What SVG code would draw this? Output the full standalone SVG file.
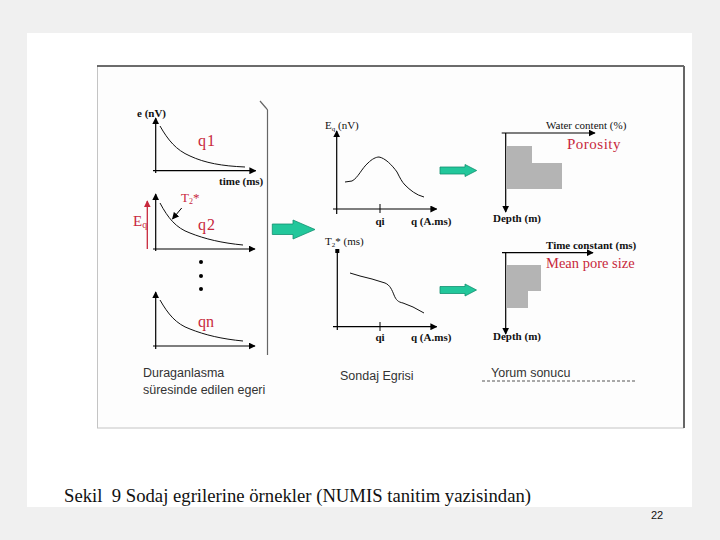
<svg xmlns="http://www.w3.org/2000/svg" width="720" height="540" viewBox="0 0 720 540">
<style>
.ax{stroke:#000;stroke-width:1.2;fill:none}
.cv{stroke:#111;stroke-width:1;fill:none}
.lb{font-family:"Liberation Serif",serif;font-size:11px;fill:#111}
.lbb{font-family:"Liberation Serif",serif;font-size:11px;font-weight:bold;fill:#111}
.red{font-family:"Liberation Serif",serif;fill:#c8283c}
.cap{font-family:"Liberation Sans",sans-serif;font-size:12.5px;fill:#333}
.bar{fill:#b4b4b4}
.garrow{fill:#22c79b;stroke:#129070;stroke-width:0.8}
</style>
<defs>
<marker id="ah" viewBox="0 0 10 10" refX="9" refY="5" markerWidth="7" markerHeight="7" orient="auto-start-reverse" markerUnits="userSpaceOnUse"><path d="M0,0 L10,5 L0,10 z" fill="#000"/></marker>
<marker id="ahr" viewBox="0 0 10 10" refX="9" refY="5" markerWidth="7" markerHeight="7" orient="auto" markerUnits="userSpaceOnUse"><path d="M0,0 L10,5 L0,10 z" fill="#c8283c"/></marker>
</defs>
<rect width="720" height="540" fill="#f0f0f0"/>
<rect x="27" y="33" width="665" height="474" fill="#fff"/>
<g id="frame">
<rect x="97.5" y="66" width="586" height="362" fill="#fdfdfd" stroke="#c4c4c4" stroke-width="1"/>
<line x1="97" y1="66" x2="684" y2="66" stroke="#444" stroke-width="1.5"/>
<line x1="684" y1="66" x2="684" y2="428" stroke="#666" stroke-width="2"/>
</g>
<g id="left-panel">
<path d="M260,101 L266,108 L267.5,110 L267.5,355" stroke="#666" stroke-width="1.2" fill="none"/>
<g id="graph-q1">
<line class="ax" x1="155.7" y1="173" x2="155.7" y2="118" marker-end="url(#ah)"/>
<line class="ax" x1="153" y1="170.7" x2="255.7" y2="170.7" marker-end="url(#ah)"/>
<path class="cv" d="M160,126 C168,140 176,150 190,156 C205,163 222,166 245,167"/>
<text class="lbb" x="137" y="117">e (nV)</text>
<text class="lbb" x="219" y="185">time (ms)</text>
<text class="red" x="198" y="146" font-size="16" letter-spacing="1">q1</text>
</g>
<g id="graph-q2">
<line x1="147.3" y1="249" x2="147.3" y2="201" stroke="#c8283c" stroke-width="1.3" marker-end="url(#ahr)"/>
<text class="red" x="133" y="226" font-size="15">E<tspan font-size="10" dy="2">q</tspan></text>
<line class="ax" x1="155.7" y1="251" x2="155.7" y2="194" marker-end="url(#ah)"/>
<line class="ax" x1="153" y1="249" x2="255" y2="249" marker-end="url(#ah)"/>
<path class="cv" d="M160,203 C168,218 176,228 190,233 C205,239 222,243 243,245"/>
<line x1="181.7" y1="208" x2="172.5" y2="219" stroke="#000" stroke-width="1" marker-end="url(#ah)"/>
<text class="red" x="181" y="202" font-size="13">T<tspan font-size="8" dy="2">2</tspan><tspan dy="-2">*</tspan></text>
<text class="red" x="198" y="230" font-size="16" letter-spacing="1">q2</text>
</g>
<g id="dots" fill="#000">
<circle cx="201" cy="262" r="2"/>
<circle cx="201" cy="276" r="2"/>
<circle cx="201" cy="289" r="2"/>
</g>
<g id="graph-qn">
<line class="ax" x1="155.7" y1="349" x2="155.7" y2="292" marker-end="url(#ah)"/>
<line class="ax" x1="153" y1="346" x2="255" y2="346" marker-end="url(#ah)"/>
<path class="cv" d="M160,300 C168,314 176,324 190,329 C205,335 222,339 243,341"/>
<text class="red" x="198" y="327" font-size="16">qn</text>
</g>
<text class="cap" x="143" y="377">Duraganlasma</text>
<text class="cap" x="143" y="394">süresinde edilen egeri</text>
</g>
<g id="middle-panel">
<g id="graph-eq">
<line class="ax" x1="336.7" y1="214" x2="336.7" y2="131" marker-end="url(#ah)"/>
<line class="ax" x1="333" y1="209" x2="436.7" y2="209" marker-end="url(#ah)"/>
<path class="cv" d="M345,182 L352,181 C358,178 362,168 368,163 C372,159 376,157 379,157 C385,158 392,165 397,172 C400,178 402,182 405,185 C410,190 416,195 424,197"/>
<line x1="380" y1="204" x2="380" y2="213" stroke="#000" stroke-width="1"/>
<text class="lb" x="325" y="129">E<tspan font-size="7" dy="2">q</tspan><tspan dy="-2"> (nV)</tspan></text>
<text class="lbb" x="380" y="225" text-anchor="middle">qi</text>
<text class="lbb" x="411" y="225">q (A.ms)</text>
</g>
<g id="graph-t2">
<line class="ax" x1="337.3" y1="330" x2="337.3" y2="250"/>
<rect x="335.3" y="249" width="4" height="4" fill="#000"/>
<line class="ax" x1="333" y1="326.7" x2="436.7" y2="326.7" marker-end="url(#ah)"/>
<path class="cv" d="M350,273 L360,276 L372,279 L385,283 C390,285 392,290 394,295 C396,300 398,302 403,303 L413,307 L424,313"/>
<line x1="380" y1="322" x2="380" y2="331" stroke="#000" stroke-width="1"/>
<text class="lb" x="325" y="245">T<tspan font-size="7" dy="2">2</tspan><tspan dy="-2">* (ms)</tspan></text>
<text class="lbb" x="380" y="341" text-anchor="middle">qi</text>
<text class="lbb" x="411" y="341">q (A.ms)</text>
</g>
<text class="cap" x="340" y="380">Sondaj Egrisi</text>
</g>
<g id="right-panel">
<g id="graph-porosity">
<line class="ax" x1="505.7" y1="133" x2="505.7" y2="212" marker-end="url(#ah)"/>
<line class="ax" x1="501.7" y1="133" x2="595" y2="133" marker-end="url(#ah)"/>
<polygon class="bar" points="506,146 532,146 532,163 562,163 562,189 506,189"/>
<text class="lb" x="546" y="129">Water content (%)</text>
<text class="red" x="567" y="149" font-size="15" letter-spacing="0.5">Porosity</text>
<text class="lbb" x="493" y="222">Depth (m)</text>
</g>
<g id="graph-pore">
<line class="ax" x1="505.7" y1="252.7" x2="505.7" y2="334" marker-end="url(#ah)"/>
<line class="ax" x1="502" y1="252.7" x2="593" y2="252.7" marker-end="url(#ah)"/>
<polygon class="bar" points="506,265 541,265 541,291 528,291 528,308 506,308"/>
<text class="lbb" x="546" y="248.5">Time constant (ms)</text>
<text class="red" x="546" y="268" font-size="14.5">Mean pore size</text>
<text class="lbb" x="493" y="340">Depth (m)</text>
</g>
<text class="cap" x="491" y="377">Yorum sonucu</text>
<line x1="482" y1="381" x2="636" y2="381" stroke="#555" stroke-width="1" stroke-dasharray="3,2"/>
</g>
<g id="connectors">
<polygon class="garrow" points="272.3,224 293,224 293,220 315,229.5 293,239 293,234.5 272.3,234.5"/>
<polygon class="garrow" points="440,167 465,167 465,164.5 476.7,170.5 465,176.5 465,174 440,174"/>
<polygon class="garrow" points="440,286.5 465,286.5 465,284 476.5,290 465,296 465,293.5 440,293.5"/>
</g>
<text x="64" y="502" font-family="Liberation Serif, serif" font-size="18" fill="#111" xml:space="preserve" style="white-space:pre" textLength="467" lengthAdjust="spacingAndGlyphs">Sekil  9 Sodaj egrilerine örnekler (NUMIS tanitim yazisindan)</text>
<text x="657" y="519" font-family="Liberation Sans, sans-serif" font-size="11" fill="#111" text-anchor="middle">22</text>
</svg>
